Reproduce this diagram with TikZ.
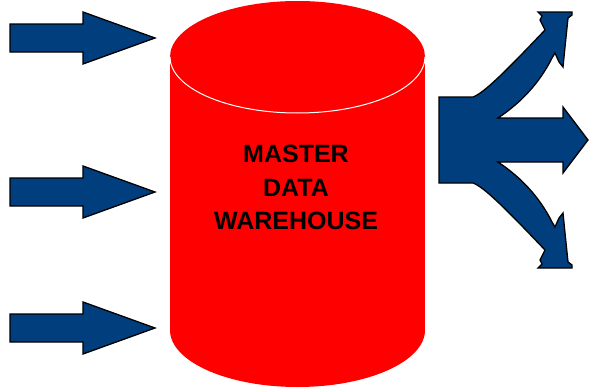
\documentclass[tikz,border=0pt]{standalone}
\usepackage{fontspec}
\setmainfont{Liberation Sans}
\definecolor{arrowblue}{RGB}{0,62,126}
\definecolor{tankred}{RGB}{255,0,0}
\tikzset{
  flowarrow/.style={fill=arrowblue, draw=black, line width=1.3pt, line join=miter},
  tankbody/.style={fill=tankred},
  rimline/.style={draw=white, line width=1pt},
  tanklabel/.style={font=\bfseries\fontsize{25}{33.5}\selectfont, text=black, align=center, inner sep=0pt}
}
\begin{document}
\begin{tikzpicture}[x=1pt,y=-1pt]
  \useasboundingbox (0,0) rectangle (590,388);

  % incoming arrows on the left
  \foreach \cy/\nm in {38/inA, 192/inB, 328/inC}{
    \path[flowarrow] (10,\cy-14) -- (83,\cy-14) -- (83,\cy-26) -- (155,\cy)
      -- (83,\cy+26) -- (83,\cy+14) -- (10,\cy+14) -- cycle;
    \coordinate (\nm) at (155,\cy);
  }

  % storage cylinder
  \fill[tankbody] (170,57) rectangle (425,330);
  \fill[tankbody] (297.5,330) ellipse [x radius=127.5, y radius=57];
  \fill[tankbody] (297.5,57) ellipse [x radius=127.5, y radius=56];
  \draw[rimline] (170,57) arc [start angle=180, end angle=0, x radius=127.5, y radius=56];
  \node[tanklabel] (label) at (296,187.5) {MASTER\\DATA\\WAREHOUSE};

  % outgoing three-way arrow on the right
  \path[flowarrow]
    (439,97) -- (473,97)
    .. controls (484,93) and (505,72) .. (545,30)
    -- (540,20) -- (542,16) -- (538,12) -- (572,12) -- (572,15) -- (568,18)
    -- (565,47) -- (563,67) -- (559,62) -- (555,53) -- (552,58)
    .. controls (540,82) and (522,102) .. (498,118)
    -- (563,118) -- (563,107) -- (588,140) -- (563,173) -- (563,162) -- (498,162)
    .. controls (522,178) and (540,198) .. (552,222)
    -- (555,227) -- (559,218) -- (563,213) -- (565,233) -- (568,262)
    -- (572,265) -- (572,268) -- (538,268) -- (542,264) -- (540,260) -- (545,250)
    .. controls (505,208) and (484,187) .. (473,183)
    -- (439,183) -- cycle;
\end{tikzpicture}
\end{document}
